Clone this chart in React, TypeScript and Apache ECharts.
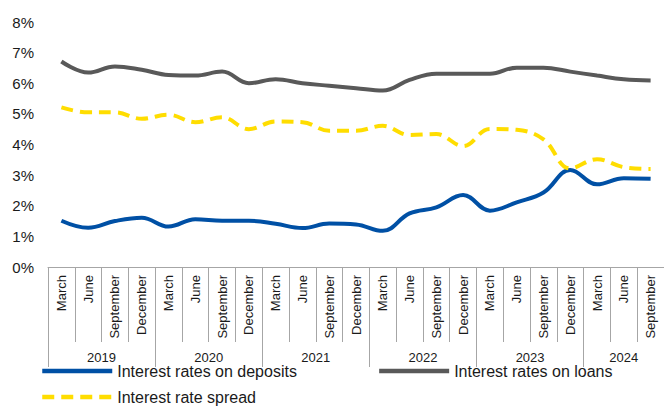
import React, { useEffect, useRef } from "react";
import * as echarts from "echarts";

const months = [
  "March", "June", "September", "December",
  "March", "June", "September", "December",
  "March", "June", "September", "December",
  "March", "June", "September", "December",
  "March", "June", "September", "December",
  "March", "June", "September",
];
const years = ["2019", "2020", "2021", "2022", "2023", "2024"];
const yearStarts = [0, 4, 8, 12, 16, 20];
const yearCenters = [2, 6, 10, 14, 18, 21.5];

const deposits = [1.51, 1.28, 1.5, 1.61, 1.32, 1.56, 1.51, 1.51, 1.41, 1.27, 1.42, 1.39, 1.18, 1.75, 1.95, 2.35, 1.84, 2.11, 2.43, 3.17, 2.7, 2.9, 2.88];
const loans = [6.71, 6.35, 6.55, 6.44, 6.27, 6.25, 6.38, 6.0, 6.13, 6.0, 5.92, 5.84, 5.76, 6.11, 6.31, 6.31, 6.31, 6.51, 6.51, 6.38, 6.25, 6.13, 6.09];
const spread = [5.21, 5.05, 5.05, 4.84, 4.97, 4.73, 4.89, 4.5, 4.75, 4.73, 4.45, 4.45, 4.61, 4.31, 4.34, 3.95, 4.51, 4.48, 4.17, 3.22, 3.52, 3.26, 3.2];

const FONT = "Liberation Sans, Arial, sans-serif";

export default function App() {
  const ref = useRef<HTMLDivElement>(null);
  useEffect(() => {
    if (!ref.current) return;
    const chart = echarts.init(ref.current, null, { renderer: "svg" });
    const legendCommon = {
      left: 40,
      itemWidth: 70,
      itemHeight: 10,
      padding: 0,
      itemStyle: { opacity: 0 },
      lineStyle: { width: 4.5 },
      textStyle: { fontSize: 16, color: "#1a1a1a", fontFamily: FONT },
    };
    chart.setOption({
      animation: false,
      textStyle: { fontFamily: FONT },
      grid: { left: 48, top: 22, width: 620, height: 245, containLabel: false },
      legend: [
        {
          ...legendCommon,
          data: ["Interest rates on deposits", "Interest rates on loans"],
          top: 363,
          itemGap: 80,
        },
        {
          ...legendCommon,
          data: ["Interest rate spread"],
          top: 389,
        },
      ],
      xAxis: [
        {
          type: "category",
          data: months,
          boundaryGap: true,
          position: "bottom",
          axisLine: { show: true, lineStyle: { color: "#a6a6a6", width: 1 } },
          axisTick: { show: true, interval: 0, length: 75, lineStyle: { color: "#a6a6a6" } },
          axisLabel: {
            interval: 0,
            rotate: 90,
            margin: 8,
            fontSize: 13,
            color: "#1a1a1a",
            fontFamily: FONT,
          },
          splitLine: { show: false },
        },
        {
          type: "value",
          min: 0,
          max: 23,
          position: "bottom",
          axisLine: { show: false },
          axisTick: {
            show: true,
            length: 100,
            customValues: yearStarts,
            lineStyle: { color: "#a6a6a6" },
          },
          axisLabel: {
            show: true,
            margin: 84,
            fontSize: 13,
            color: "#1a1a1a",
            fontFamily: FONT,
            customValues: yearCenters,
            formatter: (v: number) => {
              const i = yearCenters.indexOf(v);
              return i >= 0 ? years[i] : "";
            },
          },
          splitLine: { show: false },
        },
      ],
      yAxis: {
        type: "value",
        min: 0,
        max: 8,
        interval: 1,
        axisLine: { show: false },
        axisTick: { show: false },
        splitLine: { show: false },
        axisLabel: {
          formatter: "{value}%",
          fontSize: 15,
          margin: 14,
          color: "#1a1a1a",
          fontFamily: FONT,
        },
      },
      series: [
        {
          name: "Interest rates on deposits",
          type: "line",
          data: deposits,
          smooth: 0.4,
          symbol: "none",
          color: "#0050a5",
          lineStyle: { width: 4, color: "#0050a5" },
        },
        {
          name: "Interest rates on loans",
          type: "line",
          data: loans,
          smooth: 0.4,
          symbol: "none",
          color: "#595959",
          lineStyle: { width: 4, color: "#595959" },
        },
        {
          name: "Interest rate spread",
          type: "line",
          data: spread,
          smooth: 0.4,
          symbol: "none",
          color: "#ffdd00",
          lineStyle: { width: 4, color: "#ffdd00", type: [12, 7] },
        },
      ],
    });
    return () => chart.dispose();
  }, []);
  return (
    <div
      ref={ref}
      style={{ position: "absolute", left: 0, top: 0, width: 664, height: 407 }}
    />
  );
}
